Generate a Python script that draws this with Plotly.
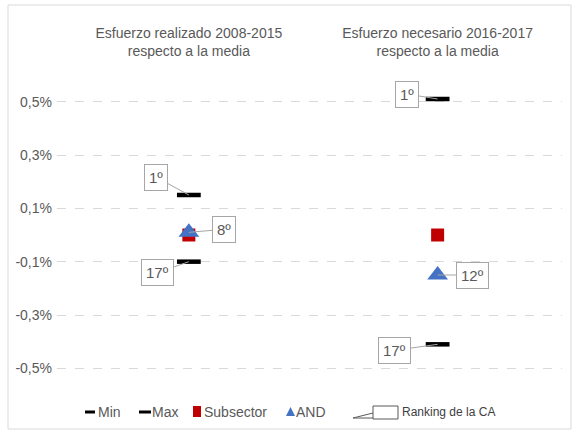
import plotly.graph_objects as go

# ---- data ----
categories = ["Esfuerzo realizado 2008-2015<br>respecto a la media",
              "Esfuerzo necesario 2016-2017<br>respecto a la media"]
min_vals = [-0.10, -0.41]
max_vals = [0.15, 0.51]
subsector_vals = [0.0, 0.0]
and_vals = [0.01, -0.15]
max_rank = ["1º", "1º"]
and_rank = ["8º", "12º"]
min_rank = ["17º", "17º"]
tick_vals = [-0.5, -0.3, -0.1, 0.1, 0.3, 0.5]
tick_text = ["-0,5%", "-0,3%", "-0,1%", "0,1%", "0,3%", "0,5%"]
legend_names = ["Min", "Max", "Subsector", "AND", "Ranking de la CA"]

# ---- layout helpers ----
W, H = 573, 430
ML, MR, MT, MB = 57, 11, 75, 35
PW, PH = W - ML - MR, H - MT - MB
def px(x): return (x - ML) / PW
def py(y): return (H - MB - y) / PH

FONT = "Liberation Sans, Arial, sans-serif"
GRAY = "#595959"
RED = "#C00000"
BLUE = "#4472C4"
xpos = list(range(len(categories)))

fig = go.Figure()
fig.add_trace(go.Scatter(x=xpos, y=min_vals, mode="markers", name=legend_names[0],
                         marker=dict(symbol="line-ew", size=17, color="black",
                                     line=dict(width=4.5, color="black"))))
fig.add_trace(go.Scatter(x=xpos, y=max_vals, mode="markers", name=legend_names[1],
                         marker=dict(symbol="line-ew", size=17, color="black",
                                     line=dict(width=4.5, color="black"))))
fig.add_trace(go.Scatter(x=xpos, y=subsector_vals, mode="markers", name=legend_names[2],
                         marker=dict(symbol="square", size=13, color=RED)))
fig.add_trace(go.Scatter(x=xpos, y=and_vals, mode="markers", name=legend_names[3],
                         marker=dict(symbol="triangle-up", size=18, color=BLUE)))

# callout offsets (pixels) for each rank label
max_off = [(-33, -18), (-31, -5)]
and_off = [(35, -3), (35, 0)]
min_off = [(-31, 11), (-43, 6)]

def callout(x, y, text, off):
    fig.add_annotation(x=x, y=y, text=text, showarrow=True, arrowhead=0,
                       arrowwidth=1, arrowcolor="#A6A6A6", ax=off[0], ay=off[1],
                       bordercolor="#A6A6A6", borderwidth=1, borderpad=4,
                       bgcolor="white", font=dict(family=FONT, size=15, color=GRAY))

for i in xpos:
    callout(i, max_vals[i], max_rank[i], max_off[i])
    callout(i, and_vals[i], and_rank[i], and_off[i])
    callout(i, min_vals[i], min_rank[i], min_off[i])

# chart border
fig.add_shape(type="rect", xref="paper", yref="paper",
              x0=px(8), x1=px(571), y0=py(429), y1=py(5),
              line=dict(color="#D9D9D9", width=1))

# ---- manual legend ----
LY = 412
def legend_text(x, name, font=None):
    fig.add_annotation(x=px(x), y=py(LY), xref="paper", yref="paper", text=name,
                       showarrow=False, xanchor="left", yanchor="middle",
                       font=font or dict(family=FONT, size=14, color=GRAY))
# Min
fig.add_shape(type="line", xref="paper", yref="paper", x0=px(85), x1=px(95),
              y0=py(LY), y1=py(LY), line=dict(color="black", width=3))
legend_text(96, legend_names[0])
# Max
fig.add_shape(type="line", xref="paper", yref="paper", x0=px(139), x1=px(151),
              y0=py(LY), y1=py(LY), line=dict(color="black", width=3))
legend_text(150, legend_names[1])
# Subsector
fig.add_shape(type="rect", xref="paper", yref="paper", x0=px(193), x1=px(201),
              y0=py(417), y1=py(406), line=dict(width=0), fillcolor=RED)
legend_text(202, legend_names[2])
# AND
fig.add_shape(type="path", xref="paper", yref="paper",
              path=f"M {px(286)},{py(416)} L {px(295)},{py(416)} L {px(290.5)},{py(407)} Z",
              line=dict(width=0), fillcolor=BLUE)
legend_text(294, legend_names[3])
# Ranking callout icon
fig.add_shape(type="rect", xref="paper", yref="paper",
              x0=px(373), x1=px(398), y0=py(419), y1=py(406),
              line=dict(color="#595959", width=1), fillcolor="white")
fig.add_shape(type="path", xref="paper", yref="paper",
              path=f"M {px(373)},{py(413)} L {px(353)},{py(418)} L {px(373)},{py(418)}",
              line=dict(color="#595959", width=1))
legend_text(400, legend_names[4],
            font=dict(family="Liberation Sans, Arial, sans-serif", size=12, color="#404040"))

fig.update_layout(
    width=W, height=H,
    margin=dict(l=ML, r=MR, t=MT, b=MB, autoexpand=False),
    paper_bgcolor="white", plot_bgcolor="white",
    font=dict(family=FONT, size=14, color=GRAY),
    showlegend=False,
    hovermode=False,
    xaxis=dict(range=[-0.53, 1.5], side="top", tickvals=xpos, ticktext=categories,
               showgrid=False, zeroline=False, showline=False, ticks="",
               automargin=False,
               tickfont=dict(family=FONT, size=14, color=GRAY),
               ticklabelstandoff=15, fixedrange=True),
    yaxis=dict(range=[-0.6, 0.6], tickvals=tick_vals, ticktext=tick_text,
               showgrid=True, gridcolor="#D9D9D9", griddash="dash", gridwidth=1,
               zeroline=False, showline=False, ticks="", automargin=False,
               tickfont=dict(family=FONT, size=14, color=GRAY),
               ticklabelstandoff=4, fixedrange=True),
)

fig.write_html("out.html", config={"displayModeBar": False},
               post_script="document.body.style.margin='0';document.body.style.overflow='hidden';")
